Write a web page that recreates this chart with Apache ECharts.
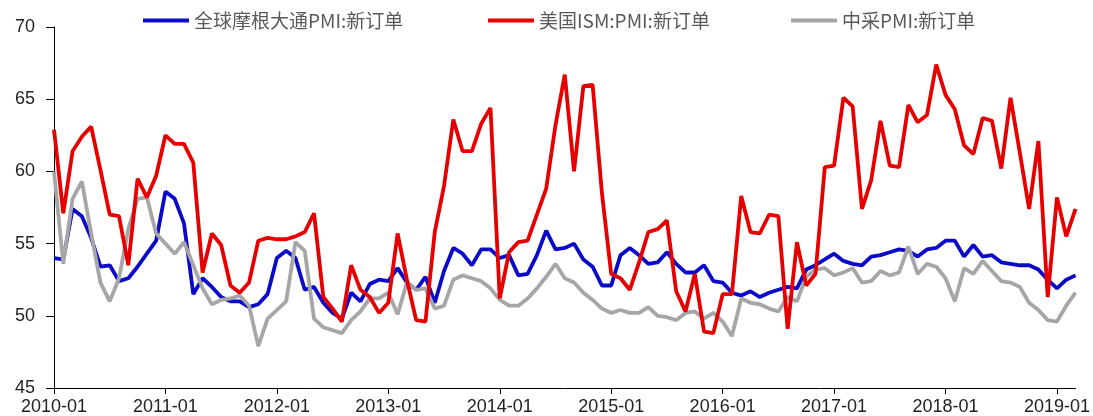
<!DOCTYPE html>
<html>
<head>
<meta charset="utf-8">
<script src="https://cdn.jsdelivr.net/npm/echarts@6/dist/echarts.min.js"></script>
<style>
html,body{margin:0;padding:0;background:#fff;}
#chart{width:1093px;height:416px;}
</style>
</head>
<body>
<div id="chart"></div>
<script>
// Months 2010-01 .. 2019-03
const months = [];
for (let y = 2010; y <= 2019; y++) {
  for (let m = 1; m <= 12; m++) {
    if (y === 2019 && m > 3) break;
    months.push(y + '-' + (m < 10 ? '0' + m : m));
  }
}

const seriesNames = ['全球摩根大通PMI:新订单', '美国ISM:PMI:新订单', '中采PMI:新订单'];

const jpmGlobal = [
  54.0, 53.9, 57.4, 56.9, 55.4, 53.4, 53.5, 52.4, 52.6, 53.4, 54.3, 55.2,
  58.6, 58.1, 56.4, 51.5, 52.6, 52.0, 51.3, 51.0, 51.0, 50.6, 50.8, 51.5,
  54.0, 54.5, 54.0, 51.8, 52.0, 50.9, 50.2, 49.8, 51.6, 51.0, 52.2, 52.5,
  52.4, 53.3, 52.3, 51.8, 52.7, 50.9, 53.1, 54.7, 54.3, 53.5, 54.6, 54.6,
  54.0, 54.2, 52.8, 52.9, 54.2, 55.9, 54.6, 54.7, 55.0, 53.9, 53.4, 52.1,
  52.1, 54.2, 54.7, 54.2, 53.6, 53.7, 54.4, 53.6, 53.0, 53.0, 53.5, 52.4,
  52.3, 51.6, 51.4, 51.7, 51.3, 51.6, 51.8, 52.0, 51.9, 53.2, 53.5, 53.9,
  54.3, 53.8, 53.6, 53.5, 54.1, 54.2, 54.4, 54.6, 54.5, 54.1, 54.6, 54.7,
  55.2, 55.2, 54.1, 54.9, 54.1, 54.2, 53.7, 53.6, 53.5, 53.5, 53.2, 52.5,
  51.9, 52.5, 52.8
];

const usIsm = [
  62.9, 57.1, 61.4, 62.4, 63.1, 60.1, 57.0, 56.9, 53.5, 59.5, 58.2, 59.7,
  62.5, 61.9, 61.9, 60.6, 53.0, 55.7, 54.9, 52.1, 51.6, 52.3, 55.2, 55.4,
  55.3, 55.3, 55.5, 55.8, 57.1, 51.3, 50.5, 49.6, 53.5, 51.8, 51.3, 50.2,
  50.9, 55.7, 52.5, 49.7, 49.6, 55.8, 59.0, 63.6, 61.4, 61.4, 63.3, 64.4,
  51.2, 54.4, 55.1, 55.2, 57.0, 58.8, 63.2, 66.7, 60.0, 65.9, 66.0, 58.5,
  52.9, 52.6, 51.8, 53.7, 55.8, 56.0, 56.6, 51.7, 50.3, 52.9, 48.9, 48.8,
  51.5, 51.5, 58.3, 55.8, 55.7, 57.0, 56.9, 49.1, 55.1, 52.1, 52.9, 60.3,
  60.4, 65.1, 64.5, 57.4, 59.4, 63.5, 60.4, 60.3, 64.6, 63.4, 63.9, 67.4,
  65.3, 64.3, 61.8, 61.2, 63.7, 63.5, 60.2, 65.1, 61.3, 57.4, 62.1, 51.3,
  58.2, 55.5, 57.4
];

const chinaPmi = [
  60.0, 53.6, 58.1, 59.3, 55.7, 52.3, 51.0, 52.6, 56.0, 58.1, 58.2, 55.7,
  55.0, 54.3, 55.1, 53.5, 51.9, 50.8, 51.1, 51.2, 51.4, 50.7, 47.9, 49.8,
  50.4, 51.0, 55.1, 54.5, 49.8, 49.2, 49.0, 48.8, 49.7, 50.3, 51.2, 51.2,
  51.6, 50.1, 52.3, 51.8, 51.9, 50.5, 50.7, 52.5, 52.8, 52.6, 52.4, 51.9,
  51.1, 50.7, 50.7, 51.2, 51.9, 52.7, 53.6, 52.6, 52.3, 51.6, 51.1, 50.5,
  50.2, 50.4, 50.2, 50.2, 50.6, 50.0, 49.9, 49.7, 50.2, 50.3, 49.8, 50.2,
  49.6, 48.6, 51.2, 50.9, 50.8, 50.5, 50.3, 51.3, 51.0, 52.7, 53.2, 53.3,
  52.8, 53.0, 53.3, 52.3, 52.4, 53.1, 52.8, 53.0, 54.8, 52.9, 53.6, 53.4,
  52.6, 51.0, 53.3, 52.9, 53.8, 53.1, 52.4, 52.3, 52.0, 50.9, 50.4, 49.7,
  49.6, 50.7, 51.6
];

const yTicks = { min: 45, max: 70, interval: 5 };

const colors = ['#0A0AC8', '#E60000', '#A6A6A6'];
const axisFont = 'Liberation Sans, Arial, sans-serif';
const legendFont = 'Noto Sans CJK SC, sans-serif';

function isJan(idx, val) { return /-01$/.test(val); }

function legendAt(name, left) {
  return {
    data: [name],
    left: left,
    top: 6,
    icon: 'rect',
    itemWidth: 46,
    itemHeight: 4,
    textStyle: { fontFamily: legendFont, fontSize: 19, color: '#5a5a5a' },
    selectedMode: false
  };
}

const chart = echarts.init(document.getElementById('chart'), null, { renderer: 'canvas' });
chart.setOption({
  animation: false,
  backgroundColor: '#ffffff',
  color: colors,
  legend: [
    legendAt(seriesNames[0], 138),
    legendAt(seriesNames[1], 483),
    legendAt(seriesNames[2], 786)
  ],
  grid: { left: 54, right: 17, top: 27, bottom: 28, containLabel: false },
  xAxis: {
    type: 'category',
    data: months,
    boundaryGap: false,
    axisLine: { show: true, lineStyle: { color: '#000', width: 1 } },
    axisTick: { show: true, interval: isJan, length: 6, lineStyle: { color: '#000' } },
    axisLabel: {
      interval: isJan,
      fontFamily: axisFont,
      fontSize: 18,
      color: '#222',
      margin: 10
    },
    splitLine: { show: false }
  },
  yAxis: {
    type: 'value',
    min: yTicks.min,
    max: yTicks.max,
    interval: yTicks.interval,
    axisLine: { show: true, lineStyle: { color: '#000', width: 1 } },
    axisTick: { show: true, length: 8, lineStyle: { color: '#000' } },
    axisLabel: { fontFamily: axisFont, fontSize: 18, color: '#222', margin: 19 },
    splitLine: { show: false }
  },
  series: [
    { name: seriesNames[0], type: 'line', data: jpmGlobal, symbol: 'none', z: 2,
      lineStyle: { width: 3.8, color: colors[0] }, itemStyle: { color: colors[0] } },
    { name: seriesNames[2], type: 'line', data: chinaPmi, symbol: 'none', z: 3,
      lineStyle: { width: 3.8, color: colors[2] }, itemStyle: { color: colors[2] } },
    { name: seriesNames[1], type: 'line', data: usIsm, symbol: 'none', z: 4,
      lineStyle: { width: 3.8, color: colors[1] }, itemStyle: { color: colors[1] } }
  ]
});
</script>
</body>
</html>
